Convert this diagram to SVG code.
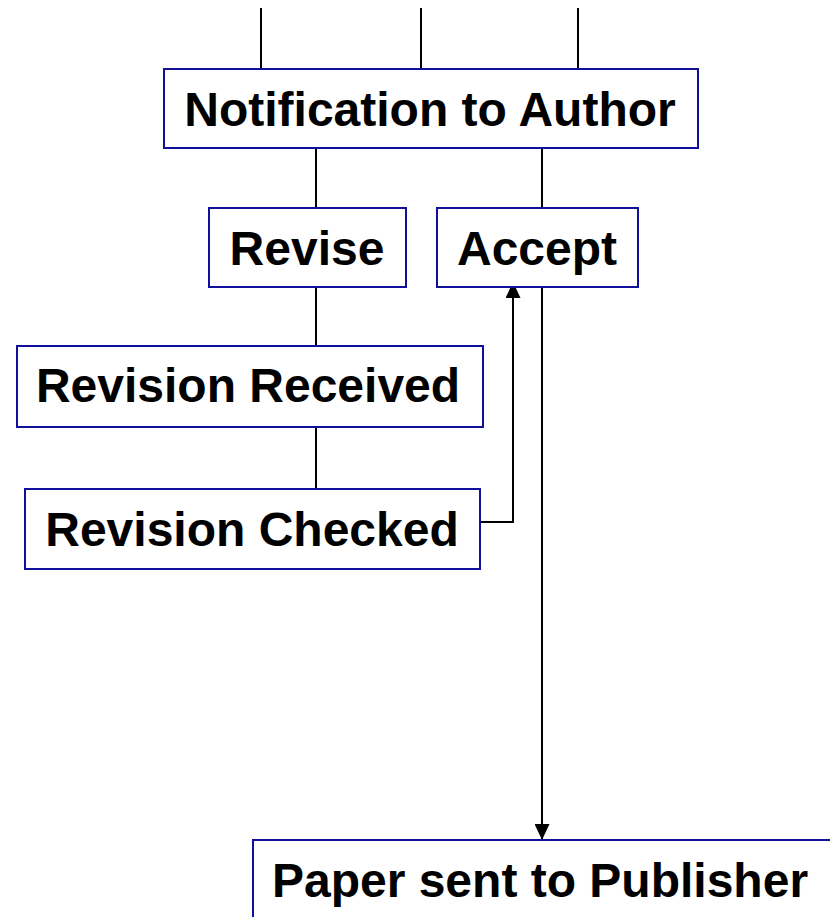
<svg xmlns="http://www.w3.org/2000/svg" width="830" height="917" viewBox="0 0 830 917">
<defs>
<marker id="arr" markerWidth="16" markerHeight="15" refX="16" refY="7.5" orient="auto" markerUnits="userSpaceOnUse">
<path d="M0,0 L16,7.5 L0,15 Z" fill="#000"/>
</marker>
<style>
.box{fill:#fff;stroke:#10109a;stroke-width:2}
.lbl{font-family:"Liberation Sans",Arial,sans-serif;font-weight:bold;font-size:48px;fill:#000;text-anchor:middle}
.ln{stroke:#000;stroke-width:2;fill:none}
</style>
</defs>
<rect width="830" height="917" fill="#fff"/>
<g id="connectors">
<line class="ln" x1="261" y1="8" x2="261" y2="69"/>
<line class="ln" x1="421" y1="8" x2="421" y2="69"/>
<line class="ln" x1="578" y1="8" x2="578" y2="69"/>
<line class="ln" x1="316" y1="148" x2="316" y2="208"/>
<line class="ln" x1="542" y1="148" x2="542" y2="208"/>
<line class="ln" x1="316" y1="287" x2="316" y2="346"/>
<line class="ln" x1="316" y1="427" x2="316" y2="489"/>
<polyline class="ln" points="480,522 513,522 513,282" marker-end="url(#arr)"/>
<line class="ln" x1="542" y1="287" x2="542" y2="840" marker-end="url(#arr)"/>
</g>
<g id="notification">
<rect class="box" x="164" y="69" width="534" height="79"/>
<text class="lbl" x="430" y="126">Notification to Author</text>
</g>
<g id="revise">
<rect class="box" x="209" y="208" width="197" height="79"/>
<text class="lbl" x="307" y="265">Revise</text>
</g>
<g id="accept">
<rect class="box" x="437" y="208" width="201" height="79"/>
<text class="lbl" x="537" y="265">Accept</text>
</g>
<g id="revision-received">
<rect class="box" x="17" y="346" width="466" height="81"/>
<text class="lbl" x="248" y="402">Revision Received</text>
</g>
<g id="revision-checked">
<rect class="box" x="25" y="489" width="455" height="80"/>
<text class="lbl" x="252" y="546">Revision Checked</text>
</g>
<g id="paper-sent">
<rect class="box" x="253" y="840" width="600" height="100"/>
<text class="lbl" x="540" y="897">Paper sent to Publisher</text>
</g>
</svg>
